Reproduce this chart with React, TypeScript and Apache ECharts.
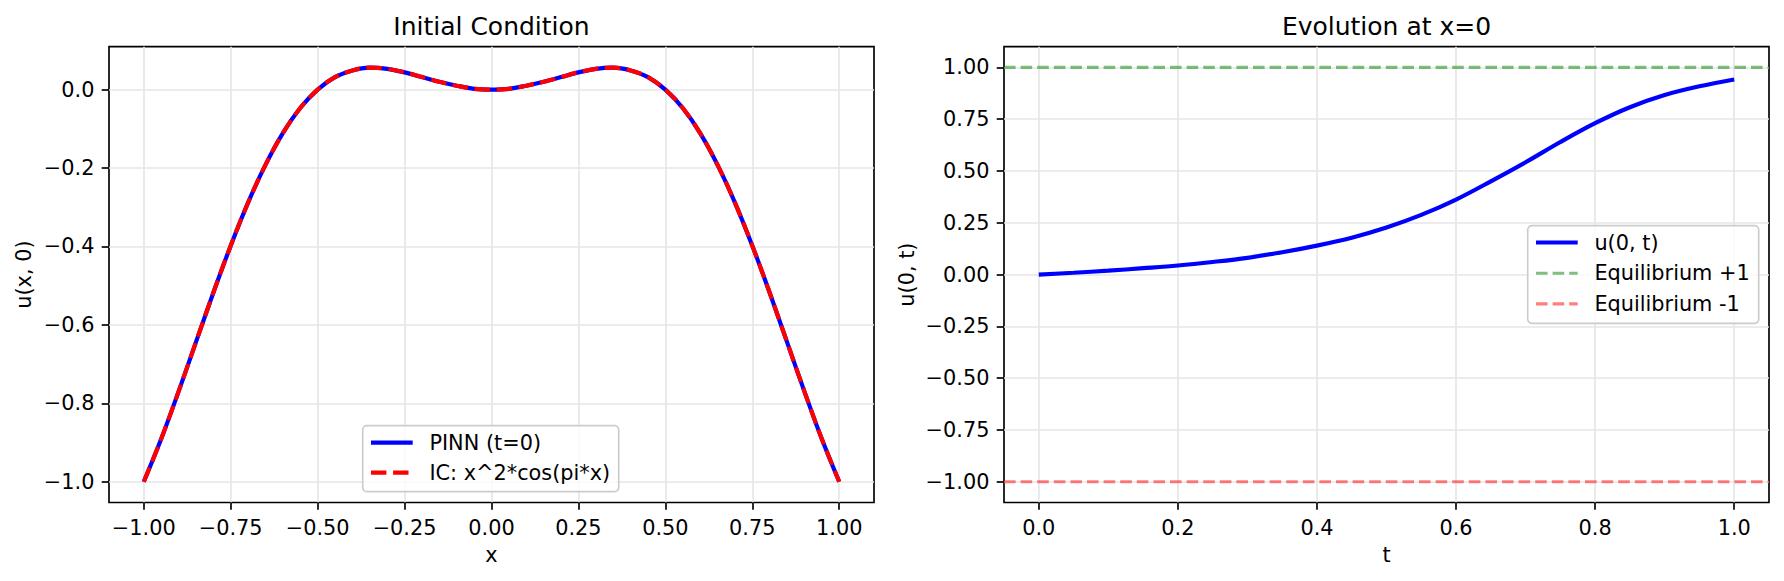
import React, { useEffect, useRef } from "react";
import * as echarts from "echarts";

// ---------- data ----------
const xValues = [
  -1, -0.95, -0.9, -0.85, -0.8, -0.75, -0.7, -0.65, -0.6, -0.55, -0.5,
  -0.45, -0.4, -0.35, -0.3, -0.25, -0.2, -0.15, -0.1, -0.05, 0,
  0.05, 0.1, 0.15, 0.2, 0.25, 0.3, 0.35, 0.4, 0.45, 0.5,
  0.55, 0.6, 0.65, 0.7, 0.75, 0.8, 0.85, 0.9, 0.95, 1,
];
const pinnValues = [
  -1.0, -0.891, -0.77, -0.644, -0.518, -0.398, -0.288, -0.192, -0.111, -0.047, 0.0,
  0.032, 0.049, 0.056, 0.053, 0.044, 0.032, 0.02, 0.01, 0.002, 0.0,
  0.002, 0.01, 0.02, 0.032, 0.044, 0.053, 0.056, 0.049, 0.032, 0.0,
  -0.047, -0.111, -0.192, -0.288, -0.398, -0.518, -0.644, -0.77, -0.891, -1.0,
];
const icValues = [
  -1.0, -0.891, -0.77, -0.644, -0.518, -0.398, -0.288, -0.192, -0.111, -0.047, 0.0,
  0.032, 0.049, 0.056, 0.053, 0.044, 0.032, 0.02, 0.01, 0.002, 0.0,
  0.002, 0.01, 0.02, 0.032, 0.044, 0.053, 0.056, 0.049, 0.032, 0.0,
  -0.047, -0.111, -0.192, -0.288, -0.398, -0.518, -0.644, -0.77, -0.891, -1.0,
];

const tValues = [
  0, 0.05, 0.1, 0.15, 0.2, 0.25, 0.3, 0.35, 0.4, 0.45, 0.5,
  0.55, 0.6, 0.65, 0.7, 0.75, 0.8, 0.85, 0.9, 0.95, 1,
];
const u0Values = [
  0.0, 0.009, 0.019, 0.031, 0.044, 0.061, 0.081, 0.108, 0.14, 0.178, 0.227,
  0.288, 0.362, 0.45, 0.542, 0.64, 0.731, 0.808, 0.867, 0.909, 0.942,
];
const equilibriumPlus = 1;
const equilibriumMinus = -1;

const leftXTicks = [-1, -0.75, -0.5, -0.25, 0, 0.25, 0.5, 0.75, 1];
const leftYTicks = [-1, -0.8, -0.6, -0.4, -0.2, 0];
const rightXTicks = [0, 0.2, 0.4, 0.6, 0.8, 1];
const rightYTicks = [-1, -0.75, -0.5, -0.25, 0, 0.25, 0.5, 0.75, 1];

const leftXRange = [-1.1, 1.1];
const leftYRange = [-1.0528, 0.1094];
const rightXRange = [-0.05, 1.05];
const rightYRange = [-1.1, 1.1];

// ---------- styling ----------
const FONT = "DejaVu Sans";
const FS = 20.83;
const LW = 1.67;
const GRID_COLOR = "#e6e6e6";

const fmt = (d: number) => (v: number) => {
  const s = Number(v).toFixed(d);
  return s.startsWith("-") && Number(s) !== 0 ? "\u2212" + s.slice(1) : s.replace("-", "");
};

const axisCommon = (ticks: number[], decimals: number, isX: boolean) => ({
  type: "value" as const,
  axisLine: { show: false, onZero: false },
  axisTick: {
    show: true,
    length: 7.3,
    customValues: ticks,
    lineStyle: { color: "#000", width: LW },
  },
  axisLabel: {
    show: true,
    customValues: ticks,
    formatter: fmt(decimals),
    color: "#000",
    fontFamily: FONT,
    fontSize: FS,
    lineHeight: 21,
    margin: isX ? 15 : 14.6,
  },
  splitLine: { show: true, lineStyle: { color: GRID_COLOR, width: LW } },
});

function legendBox(
  x: number,
  y: number,
  w: number,
  h: number,
  rows: { y: number; color: string; width: number; dash: number[] | null; text: string }[]
) {
  const children: any[] = [
    {
      type: "rect",
      shape: { x, y, width: w, height: h, r: 4.2 },
      style: { fill: "rgba(255,255,255,0.8)", stroke: "#cccccc", lineWidth: LW },
      z: 100,
    },
  ];
  rows.forEach((r) => {
    children.push({
      type: "line",
      shape: { x1: x + 8.3, y1: r.y, x2: x + 50, y2: r.y },
      style: {
        stroke: r.color,
        lineWidth: r.width,
        lineDash: r.dash || undefined,
        lineCap: "butt",
      },
      z: 101,
    });
    children.push({
      type: "text",
      x: x + 66.7,
      y: r.y,
      style: {
        text: r.text,
        fontFamily: FONT,
        fontSize: FS,
        fill: "#000",
        align: "left",
        verticalAlign: "middle",
      },
      z: 101,
    });
  });
  return children;
}

export default function App() {
  const ref = useRef<HTMLDivElement>(null);

  useEffect(() => {
    document.body.style.margin = "0";
    if (!ref.current) return;
    const chart = echarts.init(ref.current, null, { renderer: "svg" });

    const gridLeft = { left: 109, top: 46.7, width: 765, height: 455.8 };
    const gridRight = { left: 1004, top: 46.7, width: 765, height: 455.8 };

    const option: any = {
      animation: false,
      backgroundColor: "#fff",
      textStyle: { fontFamily: FONT },
      grid: [
        { ...gridLeft, show: true, borderColor: "#000", borderWidth: LW, backgroundColor: "transparent", containLabel: false },
        { ...gridRight, show: true, borderColor: "#000", borderWidth: LW, backgroundColor: "transparent", containLabel: false },
      ],
      xAxis: [
        { ...axisCommon(leftXTicks, 2, true), gridIndex: 0, min: leftXRange[0], max: leftXRange[1], position: "bottom" },
        { ...axisCommon(rightXTicks, 1, true), gridIndex: 1, min: rightXRange[0], max: rightXRange[1], position: "bottom" },
      ],
      yAxis: [
        { ...axisCommon(leftYTicks, 1, false), gridIndex: 0, min: leftYRange[0], max: leftYRange[1], position: "left" },
        { ...axisCommon(rightYTicks, 2, false), gridIndex: 1, min: rightYRange[0], max: rightYRange[1], position: "left" },
      ],
      series: [
        {
          name: "PINN (t=0)",
          type: "line",
          xAxisIndex: 0,
          yAxisIndex: 0,
          data: xValues.map((x, i) => [x, pinnValues[i]]),
          showSymbol: false,
          smooth: 0.35,
          lineStyle: { color: "#0000ff", width: 4.17, cap: "butt" },
          z: 2,
        },
        {
          name: "IC: x^2*cos(pi*x)",
          type: "line",
          xAxisIndex: 0,
          yAxisIndex: 0,
          data: xValues.map((x, i) => [x, icValues[i]]),
          showSymbol: false,
          smooth: 0.35,
          lineStyle: { color: "#ff0000", width: 4.17, type: [15.4, 6.7], cap: "butt" },
          z: 3,
        },
        {
          name: "u(0, t)",
          type: "line",
          xAxisIndex: 1,
          yAxisIndex: 1,
          data: tValues.map((t, i) => [t, u0Values[i]]),
          showSymbol: false,
          smooth: 0.35,
          lineStyle: { color: "#0000ff", width: 4.17, cap: "butt" },
          z: 2,
        },
        {
          name: "Equilibrium +1",
          type: "line",
          xAxisIndex: 1,
          yAxisIndex: 1,
          data: [
            [rightXRange[0], equilibriumPlus],
            [rightXRange[1], equilibriumPlus],
          ],
          showSymbol: false,
          lineStyle: { color: "rgba(0,128,0,0.5)", width: 3.125, type: [11.6, 5], cap: "butt" },
          z: 3,
        },
        {
          name: "Equilibrium -1",
          type: "line",
          xAxisIndex: 1,
          yAxisIndex: 1,
          data: [
            [rightXRange[0], equilibriumMinus],
            [rightXRange[1], equilibriumMinus],
          ],
          showSymbol: false,
          lineStyle: { color: "rgba(255,0,0,0.5)", width: 3.125, type: [11.6, 5], cap: "butt" },
          z: 3,
        },
      ],
      graphic: [
        {
          type: "text",
          x: 491.5,
          y: 26.5,
          style: { text: "Initial Condition", fontFamily: FONT, fontSize: 25, fill: "#000", align: "center", verticalAlign: "middle" },
        },
        {
          type: "text",
          x: 1386.5,
          y: 26.5,
          style: { text: "Evolution at x=0", fontFamily: FONT, fontSize: 25, fill: "#000", align: "center", verticalAlign: "middle" },
        },
        {
          type: "text",
          x: 491.5,
          y: 555,
          style: { text: "x", fontFamily: FONT, fontSize: FS, fill: "#000", align: "center", verticalAlign: "middle" },
        },
        {
          type: "text",
          x: 1386.5,
          y: 555,
          style: { text: "t", fontFamily: FONT, fontSize: FS, fill: "#000", align: "center", verticalAlign: "middle" },
        },
        {
          type: "text",
          x: 24.4,
          y: 274.6,
          rotation: Math.PI / 2,
          style: { text: "u(x, 0)", fontFamily: FONT, fontSize: FS, fill: "#000", align: "center", verticalAlign: "middle" },
        },
        {
          type: "text",
          x: 906.5,
          y: 274.6,
          rotation: Math.PI / 2,
          style: { text: "u(0, t)", fontFamily: FONT, fontSize: FS, fill: "#000", align: "center", verticalAlign: "middle" },
        },
        ...legendBox(362.7, 425.7, 256, 66, [
          { y: 442.7, color: "#0000ff", width: 4.17, dash: null, text: "PINN (t=0)" },
          { y: 472.7, color: "#ff0000", width: 4.17, dash: [15.4, 6.7], text: "IC: x^2*cos(pi*x)" },
        ]),
        ...legendBox(1527.7, 225.7, 231, 97.6, [
          { y: 242.5, color: "#0000ff", width: 4.17, dash: null, text: "u(0, t)" },
          { y: 273.2, color: "rgba(0,128,0,0.5)", width: 3.125, dash: [11.6, 5], text: "Equilibrium +1" },
          { y: 303.9, color: "rgba(255,0,0,0.5)", width: 3.125, dash: [11.6, 5], text: "Equilibrium -1" },
        ]),
      ],
    };

    chart.setOption(option);
    return () => chart.dispose();
  }, []);

  return <div ref={ref} style={{ width: 1784, height: 581 }} />;
}
